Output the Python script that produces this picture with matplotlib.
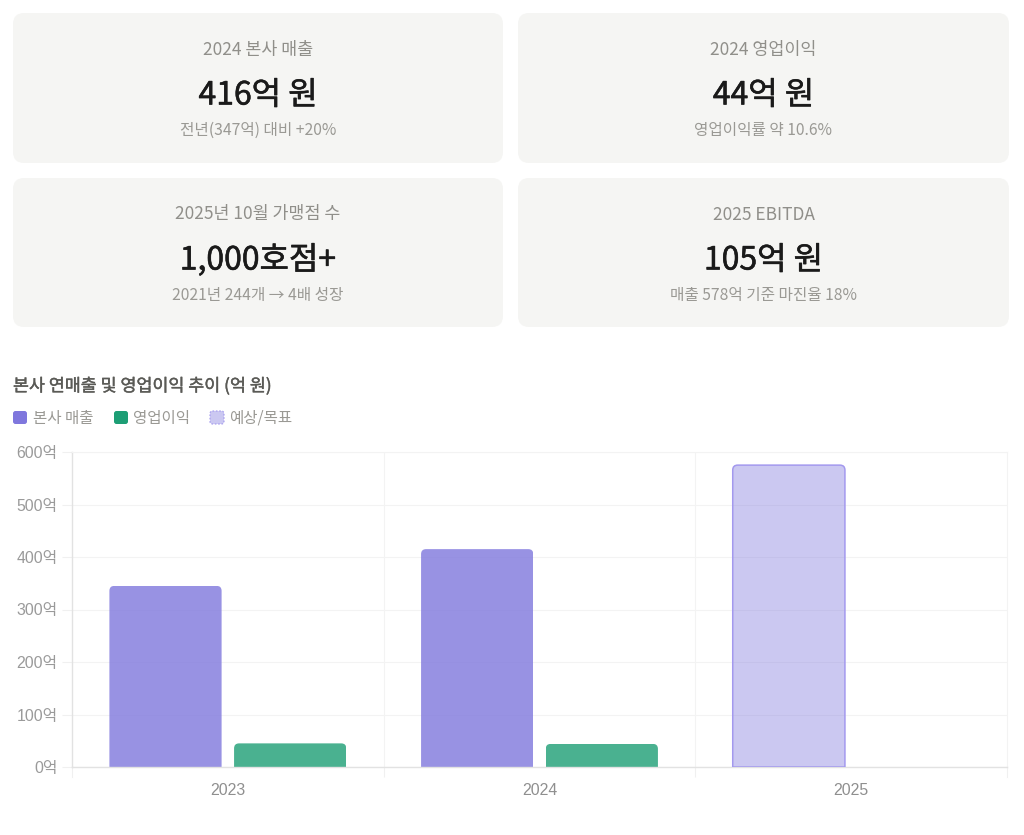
import matplotlib
matplotlib.use("Agg")
import matplotlib.pyplot as plt
import matplotlib.patheffects as pe
from matplotlib.patches import FancyBboxPatch, PathPatch
from matplotlib.path import Path

plt.rcParams['font.family'] = ['Noto Sans CJK KR', 'DejaVu Sans']
LATIN = ['Liberation Sans', 'Noto Sans CJK KR']

years = ['2023', '2024', '2025']
revenue = [345, 415, None]
profit = [45, 44, None]
target = [None, None, 575]
y_ticks = [0, 100, 200, 300, 400, 500, 600]

card_titles = ['2024 본사 매출', '2024 영업이익', '2025년 10월 가맹점 수', '2025 EBITDA']
card_values = ['416억 원', '44억 원', '1,000호점+', '105억 원']
card_notes = ['전년(347억) 대비 +20%', '영업이익률 약 10.6%', '2021년 244개 → 4배 성장', '매출 578억 기준 마진율 18%']
chart_title = '본사 연매출 및 영업이익 추이 (억 원)'
legend_labels = ['본사 매출', '영업이익', '예상/목표']

W, H = 1024, 835
PURPLE, GREEN = '#7F77DD', '#1D9E75'


def heavier(width, color):
    return [pe.withStroke(linewidth=width, foreground=color)]


fig = plt.figure(figsize=(W / 100, H / 100), dpi=100, facecolor='white')
bg = fig.add_axes([0, 0, 1, 1])
bg.set_xlim(0, W)
bg.set_ylim(H, 0)
bg.axis('off')

card_boxes = [(13, 13, 490, 150), (518, 13, 491, 150), (13, 178, 490, 149), (518, 178, 491, 149)]
for (x, y, w, h), t, v, n in zip(card_boxes, card_titles, card_values, card_notes):
    bg.add_patch(FancyBboxPatch((x + 10, y + 10), w - 20, h - 20, boxstyle='round,pad=10,rounding_size=11',
                                fc='#f5f5f3', ec='none'))
    cx = x + w / 2
    bg.text(cx, y + 36.5, t, ha='center', va='center', fontsize=12.5, color='#908f8a')
    bg.text(cx, y + 82.5, v, ha='center', va='center', fontsize=23, color='#1a1a1a',
            path_effects=heavier(0.4, '#1a1a1a'))
    bg.text(cx, y + 117.5, n, ha='center', va='center', fontsize=11.3, color='#9a9994')

bg.text(13, 386, chart_title, ha='left', va='center', fontsize=12.5, color='#5a5a56',
        path_effects=heavier(0.3, '#5a5a56'))

swatches = [(13, PURPLE, 'none', '-'), (114, GREEN, 'none', '-'), (210, '#cbc8f1', '#a399ee', (0, (1.5, 1.5)))]
text_x = [33, 133, 229]
for (x, fc, ec, ls), tx, lab in zip(swatches, text_x, legend_labels):
    bg.add_patch(FancyBboxPatch((x + 2, 413), 10, 9, boxstyle='round,pad=2,rounding_size=2.5',
                                fc=fc, ec=ec, lw=0.8, ls=ls))
    bg.text(tx, 418, lab, ha='left', va='center', fontsize=11.2, color='#9a9994')

L, R, T, B = 72, 1007, 452, 767
ax = fig.add_axes([L / W, 1 - B / H, (R - L) / W, (B - T) / H])
ax.set_facecolor('none')
ax.set_xlim(-0.5, 2.5)
ax.set_ylim(0, 600)
for s in ('top', 'right'):
    ax.spines[s].set_color('#f3f3f3')
    ax.spines[s].set_linewidth(0.8)
for s in ('left', 'bottom'):
    ax.spines[s].set_color('#e2e2e2')
    ax.spines[s].set_linewidth(1)

ax.set_yticks(y_ticks)
ax.set_yticklabels([f'{v}억' for v in y_ticks], fontsize=11.4, color='#9a9a9a', family=LATIN)
ax.set_xticks(range(len(years)))
ax.set_xticklabels(years, fontsize=11.4, color='#8f8f8f', family=LATIN)
ax.tick_params(axis='y', length=7, width=0.8, color='#f0f0f0', pad=3.5)
ax.tick_params(axis='x', length=0, pad=11.5)
ax.set_xticks([0.5, 1.5], minor=True)
ax.tick_params(axis='x', which='minor', length=7, width=0.8, color='#f0f0f0')
ax.grid(axis='y', color='#f3f3f3', lw=0.8)
ax.set_axisbelow(True)
for x in [0.5, 1.5]:
    ax.axvline(x, color='#f3f3f3', lw=0.8, zorder=0)
for x in [-0.5, 2.5]:
    ax.plot([x, x], [0, -19], color='#f0f0f0', lw=0.8, clip_on=False, zorder=0)

BW, OFF = 0.36, 0.2
RX = 5 / ((R - L) / 3)
RY = 5 / ((B - T) / 600)


def top_round(x0, x1, top):
    verts = [(x0, 0), (x0, top - RY), (x0, top), (x0 + RX, top), (x1 - RX, top), (x1, top), (x1, top - RY), (x1, 0), (x0, 0)]
    codes = [Path.MOVETO, Path.LINETO, Path.CURVE3, Path.CURVE3, Path.LINETO, Path.CURVE3, Path.CURVE3, Path.LINETO, Path.CLOSEPOLY]
    return Path(verts, codes)


series = [(revenue, -OFF, PURPLE, 0.8, None), (profit, OFF, GREEN, 0.8, None), (target, -OFF, PURPLE, 0.4, '#a399ee')]
for vals, off, col, alpha, edge in series:
    idx = [i for i, v in enumerate(vals) if v is not None]
    heights = [vals[i] for i in idx]
    bars = ax.bar([i + off for i in idx], heights, BW, color=col, alpha=alpha, zorder=2)
    for b, h in zip(bars, heights):
        p = top_round(b.get_x(), b.get_x() + BW, h)
        b.set_clip_path(p, ax.transData)
        if edge:
            ax.add_patch(PathPatch(p, fc='none', ec=edge, lw=1.1, zorder=3))

fig.savefig('out.png', dpi=100, facecolor='white')
